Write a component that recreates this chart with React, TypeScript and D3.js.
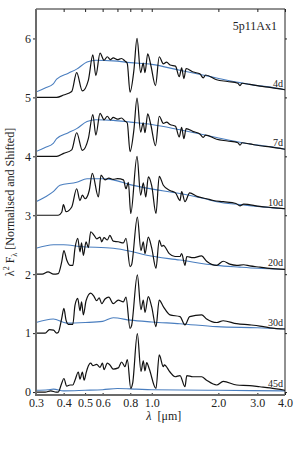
import React, { useEffect, useRef } from 'react';
import * as d3 from 'd3';

// epochs, top to bottom, and their vertical shift
const epochs = ['4d', '7d', '10d', '20d', '30d', '45d'];
const offsets = [5, 4, 3, 2, 1, 0];

// observed spectra: [wavelength um, normalised lambda^2 F_lambda]
const obs4d = [
  [0.3, 0], [0.372, 0], [0.4, 0.04], [0.435, 0.1], [0.458, 0.42], [0.486, 0.11], [0.517, 0.29],
  [0.542, 0.72], [0.559, 0.37], [0.584, 0.75], [0.609, 0.63], [0.63, 0.69], [0.65, 0.64],
  [0.67, 0.67], [0.7, 0.64], [0.73, 0.66], [0.755, 0.62], [0.775, 0.58], [0.798, 0.09],
  [0.83, 0.45], [0.858, 1.0], [0.891, 0.42], [0.915, 0.58], [0.932, 0.42], [0.959, 0.74],
  [0.99, 0.55], [1.04, 0.2], [1.081, 0.69], [1.128, 0.57], [1.167, 0.6], [1.21, 0.55],
  [1.28, 0.53], [1.331, 0.35], [1.365, 0.5], [1.397, 0.32], [1.43, 0.49], [1.54, 0.43],
  [1.65, 0.4], [1.709, 0.33], [1.75, 0.38], [1.964, 0.3], [2.2, 0.27], [2.45, 0.24],
  [2.504, 0.2], [2.56, 0.24], [2.77, 0.22], [3.08, 0.19], [3.42, 0.17], [4.0, 0.13],
];
const obs7d = [
  [0.3, 0], [0.372, 0], [0.4, 0.05], [0.435, 0.11], [0.458, 0.4], [0.486, 0.1], [0.517, 0.3],
  [0.542, 0.71], [0.559, 0.36], [0.584, 0.73], [0.609, 0.62], [0.63, 0.68], [0.65, 0.62],
  [0.67, 0.66], [0.7, 0.63], [0.73, 0.65], [0.755, 0.6], [0.775, 0.57], [0.798, 0.08],
  [0.83, 0.44], [0.858, 0.99], [0.891, 0.41], [0.915, 0.57], [0.932, 0.4], [0.959, 0.72],
  [0.99, 0.54], [1.04, 0.18], [1.081, 0.68], [1.128, 0.56], [1.167, 0.58], [1.21, 0.54],
  [1.28, 0.51], [1.331, 0.33], [1.365, 0.49], [1.397, 0.3], [1.43, 0.47], [1.54, 0.42],
  [1.65, 0.38], [1.709, 0.32], [1.75, 0.36], [1.964, 0.29], [2.2, 0.26], [2.45, 0.23],
  [2.504, 0.19], [2.56, 0.23], [2.77, 0.21], [3.08, 0.18], [3.42, 0.16], [4.0, 0.12],
];
const obs10d = [
  [0.3, 0], [0.378, 0], [0.392, 0.05], [0.399, 0.18], [0.41, 0.06], [0.435, 0.14], [0.458, 0.45],
  [0.474, 0.25], [0.486, 0.34], [0.5, 0.28], [0.522, 0.42], [0.539, 0.71], [0.574, 0.31],
  [0.59, 0.68], [0.615, 0.6], [0.64, 0.63], [0.67, 0.61], [0.7, 0.62], [0.745, 0.6],
  [0.765, 0.45], [0.784, 0.56], [0.804, 0.03], [0.858, 1.0], [0.891, 0.34], [0.916, 0.55],
  [0.94, 0.31], [0.965, 0.65], [1.0, 0.5], [1.045, 0.03], [1.081, 0.66], [1.128, 0.51],
  [1.209, 0.42], [1.28, 0.38], [1.342, 0.25], [1.365, 0.4], [1.413, 0.23], [1.484, 0.38],
  [1.6, 0.32], [1.77, 0.28], [1.9, 0.25], [2.104, 0.23], [2.4, 0.2], [2.504, 0.16],
  [2.6, 0.19], [3.08, 0.15], [3.5, 0.13], [4.0, 0.11],
];
const obs20d = [
  [0.3, 0], [0.32, 0], [0.34, 0.04], [0.36, 0], [0.378, 0.01], [0.392, 0.21], [0.401, 0.4],
  [0.413, 0.24], [0.427, 0.15], [0.44, 0.15], [0.45, 0.44], [0.463, 0.61], [0.474, 0.38],
  [0.482, 0.53], [0.491, 0.32], [0.505, 0.55], [0.517, 0.45], [0.53, 0.72], [0.549, 0.66],
  [0.564, 0.6], [0.584, 0.63], [0.594, 0.55], [0.609, 0.62], [0.63, 0.58], [0.647, 0.66],
  [0.67, 0.56], [0.706, 0.55], [0.744, 0.53], [0.765, 0.61], [0.798, 0.13], [0.811, 0.16],
  [0.861, 0.97], [0.894, 0.4], [0.916, 0.55], [0.932, 0.35], [0.965, 0.63], [0.999, 0.45],
  [1.045, 0.1], [1.081, 0.58], [1.11, 0.47], [1.128, 0.49], [1.2, 0.35], [1.274, 0.3],
  [1.342, 0.3], [1.365, 0.35], [1.413, 0.15], [1.44, 0.3], [1.535, 0.28], [1.68, 0.31],
  [1.77, 0.22], [1.964, 0.15], [2.104, 0.22], [2.25, 0.17], [2.42, 0.15], [2.6, 0.16],
  [2.77, 0.14], [3.08, 0.12], [3.4, 0.1], [4.0, 0.08],
];
const obs30d = [
  [0.3, 0], [0.33, 0], [0.345, 0.06], [0.36, 0.05], [0.372, 0], [0.378, 0.01], [0.392, 0.25],
  [0.401, 0.42], [0.41, 0.22], [0.42, 0.15], [0.44, 0.15], [0.45, 0.47], [0.463, 0.59],
  [0.474, 0.38], [0.482, 0.53], [0.491, 0.31], [0.505, 0.55], [0.53, 0.68], [0.549, 0.62],
  [0.564, 0.55], [0.579, 0.6], [0.594, 0.5], [0.615, 0.58], [0.64, 0.61], [0.67, 0.5],
  [0.706, 0.56], [0.744, 0.53], [0.765, 0.61], [0.798, 0.08], [0.811, 0.13], [0.861, 0.99],
  [0.894, 0.4], [0.916, 0.56], [0.932, 0.35], [0.965, 0.62], [0.999, 0.45], [1.045, 0.11],
  [1.081, 0.56], [1.128, 0.45], [1.209, 0.31], [1.342, 0.28], [1.413, 0.14], [1.484, 0.28],
  [1.68, 0.31], [1.77, 0.24], [1.964, 0.18], [2.104, 0.21], [2.42, 0.16], [2.77, 0.14],
  [3.08, 0.12], [3.42, 0.09], [4.0, 0.07],
];
const obs45d = [
  [0.3, 0], [0.33, 0], [0.35, 0.02], [0.37, 0], [0.378, 0], [0.392, 0.15], [0.401, 0.23],
  [0.413, 0.1], [0.427, 0.12], [0.44, 0.12], [0.45, 0.2], [0.466, 0.34], [0.474, 0.22],
  [0.486, 0.34], [0.495, 0.2], [0.505, 0.32], [0.512, 0.4], [0.53, 0.49], [0.542, 0.45],
  [0.564, 0.47], [0.584, 0.42], [0.599, 0.49], [0.609, 0.38], [0.63, 0.49], [0.647, 0.46],
  [0.67, 0.39], [0.706, 0.41], [0.731, 0.51], [0.757, 0.43], [0.776, 0.55], [0.804, 0.06],
  [0.82, 0.15], [0.861, 0.99], [0.894, 0.35], [0.916, 0.53], [0.932, 0.36], [0.949, 0.5],
  [0.975, 0.39], [1.045, 0.06], [1.081, 0.63], [1.128, 0.43], [1.14, 0.46], [1.209, 0.34],
  [1.274, 0.26], [1.342, 0.28], [1.413, 0.09], [1.44, 0.28], [1.535, 0.26], [1.68, 0.26],
  [1.77, 0.2], [1.964, 0.12], [2.104, 0.18], [2.42, 0.12], [2.77, 0.11], [3.08, 0.09],
  [3.42, 0.07], [4.0, 0.03],
];

// model spectra (blue)
const model4d = [
  [0.3, 0.09], [0.33, 0.16], [0.359, 0.23], [0.372, 0.31], [0.42, 0.41], [0.458, 0.48],
  [0.51, 0.6], [0.56, 0.63], [0.67, 0.62], [0.8, 0.59], [1.0, 0.56], [1.34, 0.46],
  [1.7, 0.38], [1.964, 0.33], [2.5, 0.25], [3.0, 0.2], [3.5, 0.17], [4.0, 0.13],
];
const model7d = [
  [0.3, 0.08], [0.33, 0.15], [0.359, 0.22], [0.372, 0.3], [0.42, 0.4], [0.458, 0.47],
  [0.51, 0.59], [0.56, 0.62], [0.67, 0.61], [0.8, 0.58], [1.0, 0.54], [1.34, 0.45],
  [1.7, 0.37], [1.964, 0.32], [2.5, 0.24], [3.0, 0.19], [3.5, 0.16], [4.0, 0.12],
];
const model10d = [
  [0.3, 0.23], [0.33, 0.31], [0.359, 0.4], [0.385, 0.51], [0.458, 0.56], [0.51, 0.62],
  [0.6, 0.62], [0.67, 0.6], [0.798, 0.52], [0.949, 0.46], [1.34, 0.37], [1.7, 0.29],
  [1.964, 0.23], [2.5, 0.18], [3.0, 0.15], [4.0, 0.11],
];
const model20d = [
  [0.3, 0.44], [0.36, 0.5], [0.4, 0.5], [0.474, 0.47], [0.67, 0.44], [0.8, 0.39],
  [0.95, 0.32], [1.34, 0.24], [1.964, 0.15], [2.5, 0.12], [3.0, 0.1], [4.0, 0.08],
];
const model30d = [
  [0.3, 0.18], [0.359, 0.24], [0.413, 0.17], [0.5, 0.18], [0.6, 0.2], [0.67, 0.26],
  [0.8, 0.22], [1.0, 0.19], [1.34, 0.16], [1.964, 0.11], [3.0, 0.09], [4.0, 0.07],
];
const model45d = [
  [0.3, 0.03], [0.34, 0.04], [0.36, 0.05], [0.4, 0.02], [0.5, 0.03], [0.6, 0.04],
  [0.7, 0.06], [0.85, 0.05], [1.0, 0.04], [2.0, 0.03], [4.0, 0.02],
];

const observed = [obs4d, obs7d, obs10d, obs20d, obs30d, obs45d];
const models = [model4d, model7d, model10d, model20d, model30d, model45d];

const xTicks = [0.3, 0.4, 0.5, 0.6, 0.8, 1.0, 2.0, 3.0, 4.0];
const xTickLabels = ['0.3', '0.4', '0.5', '0.6', '0.8', '1.0', '2.0', '3.0', '4.0'];
const xMinorTicks = [0.7, 0.9];
const yTicks = [0, 1, 2, 3, 4, 5, 6];

const W = 300;
const H = 450;
const FONT = '"Liberation Serif", "Times New Roman", serif';

function drawSvgChart(node) {
  const svg = d3.select(node);
  svg.selectAll('*').remove();

  const margin = { top: 9, right: 15, bottom: 55, left: 36 };
  const x = d3.scaleLog().domain([0.3, 4.0]).range([margin.left, W - margin.right]);
  const y = d3.scaleLinear().domain([-0.05, 6.5]).range([H - margin.bottom, margin.top]);
  const [x0, x1] = x.range();
  const [y0, y1] = y.range();

  svg
    .append('clipPath')
    .attr('id', 'plot-clip')
    .append('rect')
    .attr('x', x0)
    .attr('y', y1)
    .attr('width', x1 - x0)
    .attr('height', y0 - y1);

  const plot = svg.append('g').attr('clip-path', 'url(#plot-clip)');

  // models first, spectra on top
  models.forEach((m, i) => {
    const line = d3
      .line()
      .x((d) => x(d[0]))
      .y((d) => y(d[1] + offsets[i]))
      .curve(d3.curveMonotoneX);
    plot
      .append('path')
      .attr('d', line(m))
      .attr('fill', 'none')
      .attr('stroke', '#4a7ebf')
      .attr('stroke-width', 1.1);
  });

  observed.forEach((s, i) => {
    const line = d3
      .line()
      .x((d) => x(d[0]))
      .y((d) => y(d[1] + offsets[i]))
      .curve(d3.curveMonotoneX);
    plot
      .append('path')
      .attr('d', line(s))
      .attr('fill', 'none')
      .attr('stroke', '#111')
      .attr('stroke-width', 1.2)
      .attr('stroke-linejoin', 'round');
  });

  // epoch labels at the right end of each spectrum
  svg
    .append('g')
    .attr('font-family', FONT)
    .attr('font-size', 10)
    .attr('text-anchor', 'end')
    .attr('fill', '#222')
    .selectAll('text')
    .data(epochs)
    .join('text')
    .attr('x', x1 - 2)
    .attr('y', (d, i) => y(observed[i][observed[i].length - 1][1] + offsets[i]) - 3)
    .text((d) => d);

  // frame: thin top / right
  svg
    .append('path')
    .attr('d', `M${x0},${y1}H${x1}V${y0}`)
    .attr('fill', 'none')
    .attr('stroke', '#222')
    .attr('stroke-width', 1);

  // y axis left
  svg
    .append('g')
    .attr('transform', `translate(${x0},0)`)
    .call(d3.axisLeft(y).tickValues(yTicks).tickSize(3).tickPadding(2).tickFormat(d3.format('d')))
    .call((g) => g.select('.domain').remove())
    .call((g) =>
      g.selectAll('text').attr('font-family', FONT).attr('font-size', 12).attr('fill', '#222'),
    )
    .call((g) => g.selectAll('line').attr('stroke', '#222'));

  // y axis right, ticks only
  svg
    .append('g')
    .attr('transform', `translate(${x1},0)`)
    .call(d3.axisRight(y).tickValues(yTicks).tickSize(2).tickFormat(() => ''))
    .call((g) => g.select('.domain').remove())
    .call((g) => g.selectAll('line').attr('stroke', '#222'));

  // x axis bottom
  svg
    .append('g')
    .attr('transform', `translate(0,${y0})`)
    .call(
      d3
        .axisBottom(x)
        .tickValues(xTicks)
        .tickSize(-2)
        .tickPadding(3)
        .tickFormat((d, i) => xTickLabels[i]),
    )
    .call((g) => g.select('.domain').remove())
    .call((g) =>
      g.selectAll('text').attr('font-family', FONT).attr('font-size', 12).attr('fill', '#222'),
    )
    .call((g) => g.selectAll('line').attr('stroke', '#222'));

  // x axis top, inward ticks only
  svg
    .append('g')
    .attr('transform', `translate(0,${y1})`)
    .call(
      d3
        .axisTop(x)
        .tickValues([...xTicks, ...xMinorTicks])
        .tickSize(-3)
        .tickFormat(() => ''),
    )
    .call((g) => g.select('.domain').remove())
    .call((g) => g.selectAll('line').attr('stroke', '#222'));

  // thick grey left and bottom spines
  svg
    .append('path')
    .attr('d', `M${x0},${y1}V${y0}H${x1}`)
    .attr('fill', 'none')
    .attr('stroke', '#6b6b6b')
    .attr('stroke-width', 2);

  // title
  svg
    .append('text')
    .attr('x', x1 - 8)
    .attr('y', 30)
    .attr('text-anchor', 'end')
    .attr('font-family', FONT)
    .attr('font-size', 12)
    .attr('fill', '#222')
    .text('5p11Ax1');

  // x label
  const xc = (x0 + x1) / 2;
  svg
    .append('text')
    .attr('x', xc - 9)
    .attr('y', 420)
    .attr('text-anchor', 'end')
    .attr('font-family', FONT)
    .attr('font-size', 12)
    .attr('font-style', 'italic')
    .attr('fill', '#222')
    .text('λ');
  svg
    .append('text')
    .attr('x', xc - 3)
    .attr('y', 420)
    .attr('text-anchor', 'start')
    .attr('font-family', FONT)
    .attr('font-size', 12)
    .attr('fill', '#222')
    .text('[μm]');

  // y label
  const yl = svg
    .append('text')
    .attr('transform', `translate(14,${(y0 + y1) / 2}) rotate(-90)`)
    .attr('text-anchor', 'middle')
    .attr('font-family', FONT)
    .attr('font-size', 12)
    .attr('fill', '#222');
  yl.append('tspan').text('λ');
  yl.append('tspan').attr('font-size', 8).attr('dy', -5).text('2');
  yl.append('tspan').attr('dy', 5).text(' F');
  yl.append('tspan').attr('font-size', 8).attr('dy', 3).text('λ');
  yl.append('tspan').attr('dy', -3).text(' [Normalised and Shifted]');
}

export default function App() {
  const svgRef = useRef(null);

  useEffect(() => {
    if (svgRef.current != null) {
      drawSvgChart(svgRef.current);
    }
  }, []);

  return (
    <svg
      ref={svgRef}
      width={W}
      height={H}
      style={{ position: 'absolute', left: 0, top: 0, background: '#fff' }}
    />
  );
}
